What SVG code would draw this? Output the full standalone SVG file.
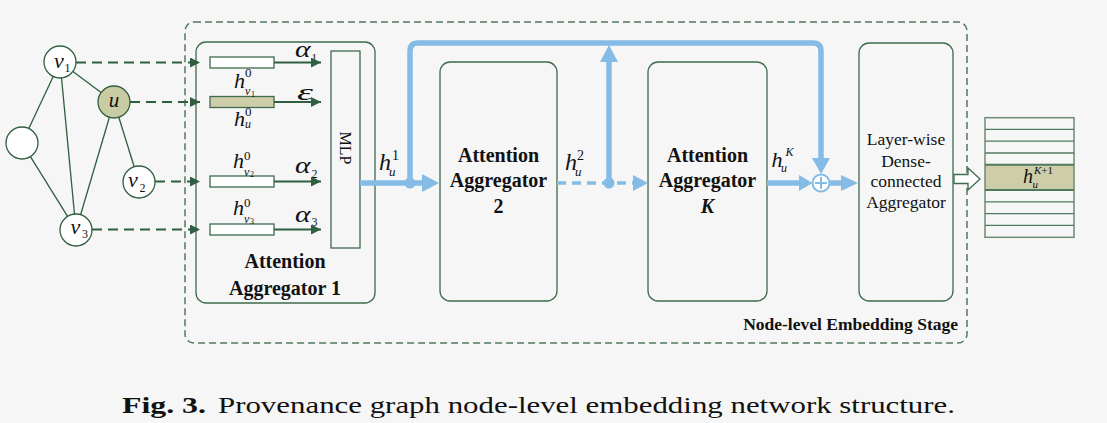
<svg xmlns="http://www.w3.org/2000/svg" width="1107" height="423" viewBox="0 0 1107 423" font-family="Liberation Serif, serif">
<style>
.bg{fill:#f6f6f6}
.box{fill:none;stroke:#3e6b4c;stroke-width:1.3}
.gn{fill:#ffffff;stroke:#2f5f3f;stroke-width:1.3}
.edge{stroke:#2f5f3f;stroke-width:1.3;fill:none}
.gdash{stroke:#2f5f3f;stroke-width:2;stroke-dasharray:10 6;fill:none}
.garr{stroke:#2f5f3f;stroke-width:2;fill:none}
.bar{fill:#ffffff;stroke:#3e6b4c;stroke-width:1.3}
.blue{stroke:#85bce6;stroke-width:5.5;fill:none}
.bluef{fill:#85bce6}
text{font-family:"Liberation Serif",serif;fill:#111}
.b{font-weight:bold}
.i{font-style:italic}
.m{text-anchor:middle}
</style>
<defs>
<marker id="ga" markerUnits="userSpaceOnUse" markerWidth="12" markerHeight="12" refX="10" refY="5" orient="auto">
<path d="M0,0 L10,5 L0,10 z" fill="#2f5f3f"/>
</marker>
</defs>
<rect class="bg" x="0" y="0" width="1107" height="423"/>

<!-- outer stage box -->
<rect x="185" y="22" width="782" height="321" rx="9" fill="none" stroke="#4f7a5f" stroke-width="1.5" stroke-dasharray="7 4"/>
<text class="b" x="958" y="330" font-size="17.5" text-anchor="end">Node-level Embedding Stage</text>

<!-- graph -->
<g id="graph-edges">
<line class="edge" x1="53.2" y1="76.5" x2="28.8" y2="128.5"/>
<line class="edge" x1="72.9" y1="71.5" x2="101.1" y2="92.5"/>
<line class="edge" x1="61.5" y1="77.9" x2="74.5" y2="214.1"/>
<line class="edge" x1="109.4" y1="117.3" x2="80.6" y2="214.7"/>
<line class="edge" x1="118.8" y1="117.3" x2="134.2" y2="166.7"/>
<line class="edge" x1="30.4" y1="156.6" x2="67.6" y2="216.4"/>
</g>
<g id="node-v1"><circle class="gn" cx="60" cy="62" r="16"/>
<text class="i" x="54" y="68" font-size="22">v</text><text x="64.5" y="72" font-size="12">1</text></g>
<g id="node-u"><circle class="gn" cx="114" cy="102" r="16" style="fill:#c9cba2"/>
<text class="i m" x="114" y="107" font-size="21">u</text></g>
<g id="node-blank"><circle class="gn" cx="22" cy="143" r="16"/></g>
<g id="node-v2"><circle class="gn" cx="139" cy="182" r="16"/>
<text class="i" x="128" y="187" font-size="22">v</text><text x="139.5" y="192" font-size="12">2</text></g>
<g id="node-v3"><circle class="gn" cx="76" cy="230" r="16"/>
<text class="i" x="70.5" y="234" font-size="22">v</text><text x="82" y="238" font-size="12">3</text></g>

<!-- Attention Aggregator 1 -->
<g id="agg1">
<rect class="box" x="196" y="42" width="179" height="261" rx="10"/>
<rect class="bar" x="210" y="57" width="64" height="11"/>
<rect class="bar" x="210" y="96.5" width="64" height="11" style="fill:#cdcea9"/>
<rect class="bar" x="210" y="176" width="64" height="11"/>
<rect class="bar" x="210" y="224" width="64" height="11"/>
<text class="b m" x="285" y="268" font-size="20">Attention</text>
<text class="b m" x="285" y="295" font-size="20">Aggregator 1</text>
<text class="i" x="234" y="88" font-size="22">h</text><text x="245" y="77" font-size="13">0</text>
<text class="i" x="245" y="95" font-size="12">v</text><text x="251" y="97" font-size="8">1</text>
<text class="i" x="234" y="126" font-size="22">h</text><text x="245" y="116" font-size="13">0</text>
<text class="i" x="245" y="128" font-size="12">u</text>
<text class="i" x="233" y="168" font-size="22">h</text><text x="244" y="160" font-size="13">0</text>
<text class="i" x="244" y="175.5" font-size="12">v</text><text x="250" y="177" font-size="8">2</text>
<text class="i" x="233" y="215" font-size="22">h</text><text x="244" y="207" font-size="13">0</text>
<text class="i" x="244" y="222.5" font-size="12">v</text><text x="250" y="224" font-size="8">3</text>
<text class="i" x="295" y="57" font-size="23" textLength="15.5" lengthAdjust="spacingAndGlyphs">α</text><text x="311.5" y="61" font-size="11">1</text>
<text class="i" x="297" y="99.5" font-size="23" textLength="16" lengthAdjust="spacingAndGlyphs">ε</text>
<text class="i" x="295" y="173" font-size="23" textLength="15.5" lengthAdjust="spacingAndGlyphs">α</text><text x="311.5" y="178" font-size="12">2</text>
<text class="i" x="295" y="221.5" font-size="23" textLength="15.5" lengthAdjust="spacingAndGlyphs">α</text><text x="311.5" y="226" font-size="12">3</text>
</g>
<g id="mlp">
<rect class="box" x="331" y="51" width="29" height="197"/>
<text class="m" x="340" y="148" font-size="16" transform="rotate(90 340 148)">MLP</text>
</g>

<!-- Aggregators -->
<g id="agg2">
<rect class="box" x="440" y="62" width="117" height="239" rx="10"/>
<text class="b m" x="498.5" y="161.7" font-size="20">Attention</text>
<text class="b m" x="498.5" y="186.7" font-size="20">Aggregator</text>
<text class="b m" x="498.5" y="212.7" font-size="20">2</text>
</g>
<g id="aggK">
<rect class="box" x="648" y="62" width="119" height="239" rx="10"/>
<text class="b m" x="707.5" y="161.7" font-size="20">Attention</text>
<text class="b m" x="707.5" y="186.7" font-size="20">Aggregator</text>
<text class="b i m" x="707.5" y="212.7" font-size="20">K</text>
</g>
<g id="dense">
<rect class="box" x="859" y="43" width="94" height="258" rx="10"/>
<text class="m" x="906" y="145" font-size="17.5">Layer-wise</text>
<text class="m" x="906" y="166.5" font-size="17.5">Dense-</text>
<text class="m" x="906" y="187" font-size="17.5">connected</text>
<text class="m" x="906" y="208" font-size="17.5">Aggregator</text>
</g>

<!-- output stack -->
<g id="stack">
<rect x="985" y="164.7" width="89" height="25.3" fill="#cdcea9"/>
<rect x="985" y="117.7" width="89" height="119.6" fill="none" stroke="#6d8c74" stroke-width="1.5"/>
<g stroke="#4f7a5f" stroke-width="1.3">
<line x1="985" y1="129.4" x2="1074" y2="129.4"/>
<line x1="985" y1="141.2" x2="1074" y2="141.2"/>
<line x1="985" y1="153" x2="1074" y2="153"/>
<line x1="985" y1="164.7" x2="1074" y2="164.7" stroke-width="2"/>
<line x1="985" y1="190" x2="1074" y2="190" stroke-width="2"/>
<line x1="985" y1="201.8" x2="1074" y2="201.8"/>
<line x1="985" y1="213.6" x2="1074" y2="213.6"/>
<line x1="985" y1="225.4" x2="1074" y2="225.4"/>
</g>
<text class="i" x="1023" y="183" font-size="20">h</text>
<text class="i" x="1034" y="174" font-size="11">K<tspan font-style="normal">+1</tspan></text>
<text class="i" x="1032.5" y="188" font-size="11">u</text>
</g>

<!-- connectors -->
<g id="connectors">
<line class="gdash" x1="76" y1="62.5" x2="200" y2="62.5" marker-end="url(#ga)"/>
<line class="gdash" x1="130" y1="102" x2="200" y2="102" marker-end="url(#ga)"/>
<line class="gdash" x1="155" y1="181.5" x2="200" y2="181.5" marker-end="url(#ga)"/>
<line class="gdash" x1="92" y1="229.5" x2="200" y2="229.5" marker-end="url(#ga)"/>
<line class="garr" x1="274" y1="62.5" x2="321" y2="62.5" marker-end="url(#ga)"/>
<line class="garr" x1="274" y1="102" x2="321" y2="102" marker-end="url(#ga)"/>
<line class="garr" x1="274" y1="181.5" x2="321" y2="181.5" marker-end="url(#ga)"/>
<line class="garr" x1="274" y1="229.5" x2="321" y2="229.5" marker-end="url(#ga)"/>

<line class="blue" x1="360" y1="183" x2="423" y2="183"/>
<polygon class="bluef" points="422,174 439,183 422,192"/>
<path class="blue" d="M410,183 L410,51 Q410,43 418,43 L813,43 Q821,43 821,51 L821,159"/>
<polygon class="bluef" points="812,158 830,158 821,174"/>
<circle class="bluef" cx="410" cy="183" r="5.5"/>
<line x1="557" y1="183" x2="633" y2="183" stroke="#85bce6" stroke-width="3.5" stroke-dasharray="9 6"/>
<polygon class="bluef" points="633,175 648,183 633,191"/>
<line class="blue" x1="609" y1="183" x2="609" y2="61"/>
<polygon class="bluef" points="600,62 609,45 618,62"/>
<circle class="bluef" cx="609" cy="183" r="5.5"/>
<line class="blue" x1="767" y1="183" x2="800" y2="183"/>
<polygon class="bluef" points="799,175 812.5,183 799,191"/>
<circle cx="821" cy="183" r="8.5" fill="#ffffff" stroke="#85bce6" stroke-width="2"/>
<line x1="815" y1="183" x2="827" y2="183" stroke="#85bce6" stroke-width="2"/>
<line x1="821" y1="177" x2="821" y2="189" stroke="#85bce6" stroke-width="2"/>
<line class="blue" x1="829.5" y1="183" x2="842" y2="183"/>
<polygon class="bluef" points="841,175 858,183 841,191"/>
<polygon points="954,174.5 968,174.5 968,168 980,179 968,190 968,183.5 954,183.5" fill="#ffffff" stroke="#3e6b4c" stroke-width="1.3"/>
</g>

<!-- blue labels -->
<g id="labels">
<text class="i" x="379" y="170" font-size="24">h</text><text x="392" y="160" font-size="14">1</text><text class="i" x="389" y="176" font-size="13">u</text>
<text class="i" x="565" y="170" font-size="24">h</text><text x="577" y="160" font-size="14">2</text><text class="i" x="575" y="176" font-size="13">u</text>
<text class="i" x="771.5" y="166.5" font-size="22">h</text><text class="i" x="785.5" y="156" font-size="12">K</text><text class="i" x="781" y="172" font-size="12">u</text>
</g>

<!-- caption -->
<text class="b" x="122" y="413" font-size="24" textLength="84" lengthAdjust="spacingAndGlyphs">Fig. 3.</text>
<text x="218" y="413" font-size="24" textLength="737" lengthAdjust="spacingAndGlyphs">Provenance graph node-level embedding network structure.</text>
</svg>
